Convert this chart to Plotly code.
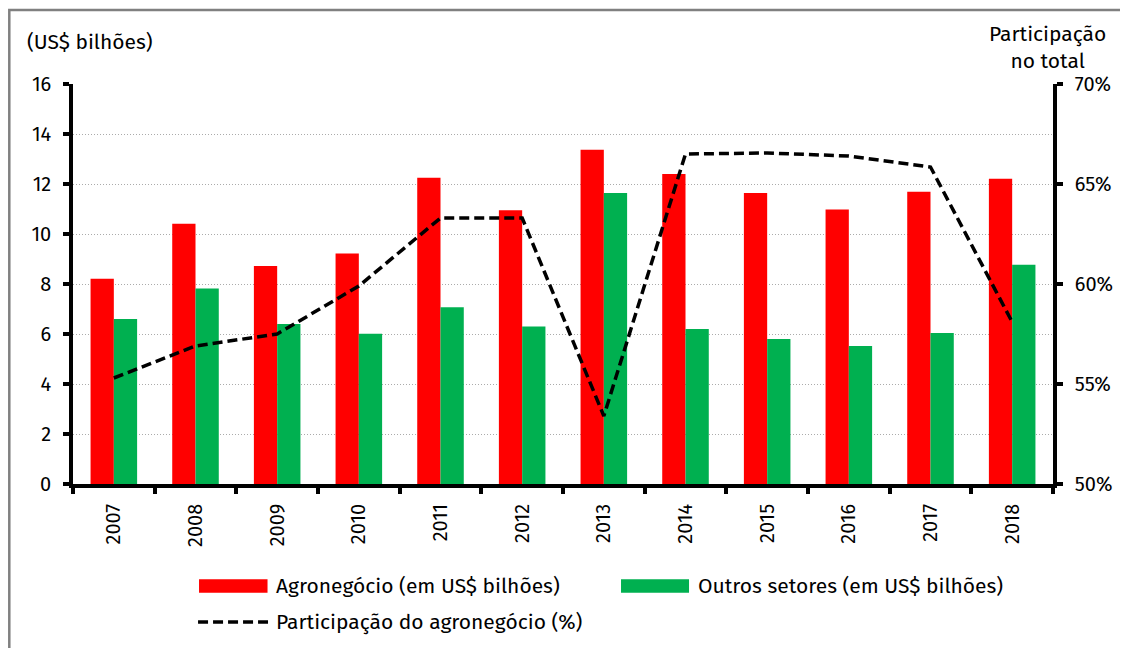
import plotly.graph_objects as go

anos = ["2007", "2008", "2009", "2010", "2011", "2012", "2013", "2014", "2015", "2016", "2017", "2018"]
agro = [8.21, 10.41, 8.72, 9.22, 12.25, 10.95, 13.37, 12.40, 11.64, 10.98, 11.69, 12.21]
outros = [6.60, 7.82, 6.40, 6.01, 7.07, 6.30, 11.64, 6.20, 5.80, 5.52, 6.04, 8.77]
participacao = [55.3, 56.9, 57.5, 59.9, 63.3, 63.3, 53.4, 66.5, 66.55, 66.4, 65.85, 58.1]

nomes = ["Agronegócio (em US$ bilhões)", "Outros setores (em US$ bilhões)",
         "Participação do agronegócio (%)"]
VERMELHO = "#FF0000"
VERDE = "#00B050"
DASH = "10px,5px"

FONT = "Fira Sans, Roboto, Noto Sans, sans-serif"

fig = go.Figure()
fig.add_trace(go.Bar(x=anos, y=agro, name=nomes[0],
                     marker=dict(color=VERMELHO, line=dict(width=0))))
fig.add_trace(go.Bar(x=anos, y=outros, name=nomes[1],
                     marker=dict(color=VERDE, line=dict(width=0))))
fig.add_trace(go.Scatter(x=anos, y=participacao, name=nomes[2],
                         yaxis="y2", mode="lines",
                         line=dict(color="black", width=3.5, dash=DASH)))

axis_common = dict(showline=True, linecolor="black", linewidth=3.5,
                   ticks="outside", ticklen=6, tickwidth=3.5, tickcolor="black",
                   zeroline=False)

fig.update_layout(
    width=1128, height=648,
    margin=dict(l=65, r=83, t=76, b=172),
    paper_bgcolor="white", plot_bgcolor="white",
    font=dict(family=FONT, size=20, color="black"),
    barmode="group", bargap=0.43, bargroupgap=0,
    showlegend=False,
    xaxis=dict(type="category", tickson="boundaries", tickangle=-90, showgrid=False,
               tickfont=dict(size=20), ticklabelstandoff=8, **axis_common),
    yaxis=dict(range=[0, 16], dtick=2, showgrid=True, gridcolor="#ABABAB",
               griddash="1px,2px", gridwidth=1, tickfont=dict(size=20),
               ticklabelstandoff=8, **axis_common),
    yaxis2=dict(range=[50, 70], dtick=5, ticksuffix="%", overlaying="y", side="right",
                showgrid=False, tickfont=dict(size=20), ticklabelstandoff=8,
                **axis_common),
)

# títulos dos eixos
fig.add_annotation(text="(US$ bilhões)", xref="paper", yref="paper",
                   x=-0.049, y=1.105, xanchor="left", yanchor="middle",
                   showarrow=False, font=dict(size=21))
fig.add_annotation(text="Participação<br>no total", xref="paper", yref="paper",
                   x=0.994, y=1.09, xanchor="center", yanchor="middle",
                   showarrow=False, font=dict(size=21), align="center")

# legenda
leg_y1 = -0.255
leg_y2 = -0.345
fig.add_shape(type="rect", xref="paper", yref="paper", x0=0.1286, x1=0.1985,
              y0=leg_y1 - 0.017, y1=leg_y1 + 0.017, fillcolor=VERMELHO, line=dict(width=0))
fig.add_shape(type="rect", xref="paper", yref="paper", x0=0.5592, x1=0.6286,
              y0=leg_y1 - 0.017, y1=leg_y1 + 0.017, fillcolor=VERDE, line=dict(width=0))
fig.add_shape(type="line", xref="paper", yref="paper", x0=0.1276, x1=0.199,
              y0=leg_y2, y1=leg_y2, line=dict(color="black", width=3.5, dash=DASH))
fig.add_annotation(text=nomes[0], xref="paper", yref="paper", x=0.205, y=leg_y1,
                   xanchor="left", yanchor="middle", showarrow=False, font=dict(size=21))
fig.add_annotation(text=nomes[1], xref="paper", yref="paper", x=0.6357, y=leg_y1,
                   xanchor="left", yanchor="middle", showarrow=False, font=dict(size=21))
fig.add_annotation(text=nomes[2], xref="paper", yref="paper", x=0.205, y=leg_y2,
                   xanchor="left", yanchor="middle", showarrow=False, font=dict(size=21))

# moldura
fig.add_shape(type="rect", xref="paper", yref="paper",
              x0=-0.0650, x1=1.1, y0=-0.5, y1=1.185,
              line=dict(color="#808080", width=2.5), fillcolor="rgba(0,0,0,0)", layer="below")

fig.write_html("out.html")
